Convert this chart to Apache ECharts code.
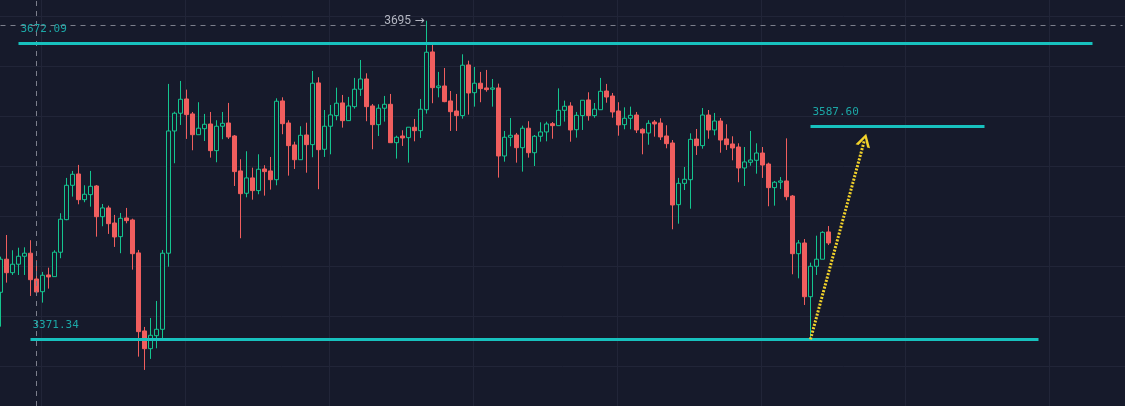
<!DOCTYPE html>
<html>
<head>
<meta charset="utf-8">
<style>
  html, body { margin: 0; padding: 0; background: #161a2b; }
  #chart { width: 1125px; height: 406px; }
</style>
<script src="https://cdn.jsdelivr.net/npm/echarts@6/dist/echarts.min.js"></script>
</head>
<body>
<div id="chart"></div>
<script>
// OHLC per bar
const opens = [
  3419.1, 3452.7, 3439.0, 3447.6, 3455.7, 3458.8, 3432.6, 3419.7, 3436.7, 3435.0,
  3459.8, 3492.9, 3527.8, 3539.3, 3513.2, 3518.3, 3527.1, 3495.9, 3504.8, 3489.5,
  3475.6, 3494.6, 3492.6, 3459.1, 3379.8, 3361.8, 3375.0, 3381.5, 3458.8, 3583.0,
  3601.0, 3615.5, 3600.3, 3579.2, 3585.3, 3590.1, 3563.0, 3587.8, 3591.1, 3577.9,
  3542.4, 3519.7, 3535.3, 3522.4, 3544.4, 3542.4, 3533.5, 3613.5, 3591.1, 3568.8,
  3553.8, 3578.9, 3569.1, 3631.8, 3564.4, 3587.8, 3598.6, 3611.5, 3593.5, 3607.7,
  3625.4, 3635.8, 3608.4, 3589.4, 3606.1, 3610.1, 3571.1, 3577.9, 3576.2, 3586.8,
  3583.3, 3604.6, 3663.3, 3627.0, 3628.7, 3613.5, 3603.3, 3598.6, 3650.1, 3621.9,
  3631.5, 3626.7, 3625.4, 3626.7, 3557.6, 3576.6, 3578.9, 3566.0, 3585.8, 3560.9,
  3577.6, 3582.0, 3590.4, 3588.4, 3604.0, 3608.4, 3584.3, 3598.6, 3614.5, 3598.6,
  3604.6, 3623.6, 3618.5, 3603.3, 3589.4, 3595.9, 3599.2, 3584.7, 3580.9, 3592.1,
  3591.1, 3577.9, 3570.8, 3508.1, 3529.8, 3533.5, 3574.8, 3568.1, 3599.2, 3584.0,
  3593.1, 3574.9, 3569.8, 3566.7, 3545.4, 3551.2, 3553.2, 3560.6, 3549.4, 3525.4,
  3530.9, 3532.2, 3516.9, 3458.3, 3469.2, 3414.6, 3445.5, 3452.7, 3480.4
];
const closes = [
  3452.7, 3439.0, 3447.6, 3455.7, 3458.8, 3431.9, 3419.4, 3436.4, 3434.7, 3459.8,
  3493.3, 3527.8, 3539.0, 3513.2, 3518.7, 3526.8, 3495.9, 3504.8, 3488.8, 3475.3,
  3494.3, 3491.9, 3458.3, 3379.1, 3361.8, 3375.4, 3381.5, 3458.8, 3583.0, 3601.0,
  3615.2, 3599.6, 3579.2, 3585.8, 3589.8, 3563.0, 3587.8, 3590.8, 3576.9, 3541.7,
  3519.3, 3535.3, 3522.4, 3544.1, 3541.7, 3533.5, 3613.2, 3590.4, 3568.1, 3553.8,
  3578.6, 3569.1, 3631.5, 3564.0, 3587.8, 3599.3, 3611.2, 3593.5, 3608.4, 3625.4,
  3635.8, 3607.7, 3589.4, 3606.1, 3610.1, 3571.1, 3576.6, 3575.9, 3586.8, 3583.3,
  3605.1, 3663.0, 3627.0, 3628.7, 3612.8, 3602.6, 3598.6, 3649.8, 3621.6, 3631.5,
  3626.0, 3625.0, 3626.7, 3557.6, 3576.6, 3578.6, 3566.0, 3585.8, 3560.9, 3577.6,
  3582.0, 3590.1, 3588.4, 3604.0, 3608.1, 3584.0, 3598.9, 3614.2, 3598.6, 3605.1,
  3623.3, 3617.5, 3602.3, 3589.1, 3595.9, 3598.9, 3584.0, 3580.9, 3590.8, 3590.1,
  3576.9, 3570.1, 3507.8, 3529.8, 3533.9, 3574.5, 3568.1, 3599.2, 3584.0, 3593.1,
  3573.8, 3569.1, 3565.7, 3545.4, 3551.5, 3553.5, 3560.6, 3548.4, 3525.4, 3530.9,
  3532.2, 3516.2, 3458.3, 3469.2, 3414.6, 3445.5, 3452.7, 3480.0, 3469.2
];
const lows = [
  3384.2, 3428.9, 3436.7, 3436.7, 3436.7, 3415.4, 3418.1, 3408.6, 3422.8, 3435.0,
  3453.7, 3492.3, 3516.3, 3508.5, 3510.6, 3506.1, 3475.6, 3486.2, 3478.4, 3465.2,
  3458.8, 3489.2, 3442.1, 3353.7, 3340.2, 3351.4, 3362.2, 3372.0, 3445.1, 3550.2,
  3589.1, 3574.9, 3563.4, 3579.2, 3572.8, 3555.9, 3551.2, 3574.6, 3574.9, 3527.1,
  3474.0, 3515.6, 3513.2, 3518.7, 3517.3, 3523.4, 3527.8, 3579.7, 3537.6, 3544.4,
  3553.8, 3540.6, 3556.3, 3523.8, 3556.6, 3559.3, 3593.9, 3586.4, 3593.5, 3605.7,
  3618.6, 3592.9, 3564.4, 3577.9, 3592.5, 3571.1, 3554.9, 3567.8, 3550.8, 3572.5,
  3575.9, 3600.6, 3611.2, 3617.2, 3612.2, 3583.0, 3583.0, 3595.5, 3599.6, 3607.7,
  3612.2, 3622.9, 3607.7, 3535.6, 3551.8, 3567.4, 3550.8, 3541.7, 3555.9, 3547.4,
  3572.1, 3572.5, 3575.1, 3588.4, 3592.5, 3572.1, 3576.2, 3584.0, 3593.5, 3596.5,
  3604.6, 3611.7, 3596.5, 3578.2, 3584.7, 3584.7, 3580.9, 3559.3, 3569.0, 3577.2,
  3573.8, 3565.4, 3483.1, 3488.8, 3523.0, 3504.0, 3558.6, 3565.0, 3575.1, 3578.6,
  3560.9, 3563.7, 3553.2, 3530.9, 3527.1, 3547.7, 3539.6, 3535.3, 3506.5, 3507.1,
  3524.0, 3512.6, 3437.4, 3433.3, 3406.2, 3371.3, 3436.7, 3452.7, 3467.1
];
const highs = [
  3455.3, 3477.3, 3461.8, 3464.4, 3464.8, 3472.0, 3451.6, 3439.8, 3444.1, 3461.8,
  3499.4, 3535.3, 3542.4, 3548.5, 3527.8, 3542.4, 3528.1, 3508.8, 3507.1, 3497.7,
  3499.7, 3504.8, 3493.9, 3462.1, 3383.9, 3393.0, 3410.3, 3462.1, 3630.8, 3602.6,
  3633.8, 3625.0, 3602.3, 3612.2, 3600.3, 3602.3, 3593.9, 3602.3, 3611.5, 3578.9,
  3554.3, 3562.4, 3545.7, 3559.3, 3548.2, 3556.6, 3616.2, 3617.2, 3593.9, 3572.1,
  3587.8, 3591.4, 3644.0, 3637.6, 3604.3, 3609.4, 3627.0, 3619.6, 3617.6, 3636.9,
  3655.1, 3641.6, 3610.4, 3610.1, 3618.6, 3620.6, 3578.2, 3583.7, 3586.8, 3595.2,
  3615.5, 3695.0, 3670.4, 3643.0, 3647.0, 3623.6, 3620.6, 3660.9, 3654.4, 3648.0,
  3643.0, 3645.0, 3635.8, 3631.1, 3583.0, 3596.2, 3581.0, 3588.4, 3592.9, 3578.9,
  3591.8, 3592.4, 3592.1, 3626.3, 3613.8, 3612.2, 3602.3, 3614.2, 3622.3, 3611.4,
  3636.9, 3630.8, 3621.6, 3612.2, 3607.0, 3607.7, 3602.3, 3585.7, 3593.9, 3594.1,
  3595.9, 3588.8, 3573.8, 3535.3, 3546.4, 3580.6, 3585.0, 3606.3, 3604.3, 3601.3,
  3596.2, 3589.8, 3577.6, 3570.5, 3566.7, 3583.0, 3570.5, 3566.7, 3550.8, 3532.2,
  3536.2, 3575.5, 3517.9, 3472.2, 3473.2, 3449.2, 3476.6, 3481.1, 3486.4
];

// bar slots, the chart leaves empty room on the right for the drawings
const slotCount = 188;

// horizontal levels: start bar, end bar, price
const levelStarts = [3, 135, 5];
const levelEnds = [182, 164, 173];
const levelPrices = [3672.09, 3587.60, 3371.34];

// projected move (dotted arrow): [bar, price]
const arrowFrom = [135, 3371.3];
const arrowTo = [144, 3573.8];

// crosshair position
const crosshairBar = 6;
const crosshairPrice = 3690.7;

const BG = '#161a2b';
const UP = '#14c48f';
const DOWN = '#f05e5e';
const LEVEL = '#17c1be';
const LEVEL_TEXT = '#1ca7a6';
const GRID_LINE = '#212538';
const CROSS = '#7c7f8c';
const ARROW = '#f2d22b';

// open chevron used as the arrow head
const chevron = 'path://M0,10 L5,0 L10,10 L8,10 L5,3.6 L2,10 Z';

const hiddenAxis = {
  axisLine: { show: false },
  axisTick: { show: false },
  axisLabel: { show: false }
};

function makeSlots() {
  const slots = [];
  for (let i = 0; i < slotCount; i++) {
    slots.push(String(i));
  }
  return slots;
}

function makeCandles() {
  return opens.map((open, i) => [open, closes[i], lows[i], highs[i]]);
}

function makeLevelLines() {
  return levelPrices.map((price, i) => [
    {
      coord: [levelStarts[i], price],
      label: {
        show: true,
        position: 'insideStartTop',
        formatter: price.toFixed(2),
        color: LEVEL_TEXT,
        fontFamily: 'DejaVu Sans Mono',
        fontSize: 11,
        distance: [2, 9]
      },
      lineStyle: { color: LEVEL, width: 3, type: 'solid' }
    },
    { coord: [levelEnds[i], price] }
  ]);
}

function makeArrowLine() {
  return [
    {
      coord: arrowFrom,
      symbol: 'none',
      label: { show: false },
      lineStyle: { color: ARROW, width: 3, type: [2, 1.5] }
    },
    { coord: arrowTo, symbol: chevron, symbolSize: [15, 13] }
  ];
}

function makeCrosshair() {
  const style = { color: CROSS, width: 1, type: [5, 5] };
  return [
    { yAxis: crosshairPrice, label: { show: false }, lineStyle: style },
    { xAxis: crosshairBar, label: { show: false }, lineStyle: style }
  ];
}

const chart = echarts.init(document.getElementById('chart'), null, { renderer: 'canvas' });

const option = {
  backgroundColor: BG,
  animation: false,
  grid: [
    // price grid, whole canvas
    { left: 0.5, right: 2.5, top: 0, bottom: 0 },
    // horizontal gridlines, one every 50 px
    { left: 0, right: 0, top: 16, bottom: 40 },
    // vertical gridlines, one every 144 px
    { left: 41, right: 76, top: 0, bottom: 0 }
  ],
  xAxis: [
    { type: 'category', gridIndex: 0, data: makeSlots(), boundaryGap: false, show: false },
    { type: 'value', gridIndex: 1, min: 0, max: 1, ...hiddenAxis, splitLine: { show: false } },
    {
      type: 'value', gridIndex: 2, min: 0, max: 1008, interval: 144, ...hiddenAxis,
      splitLine: { show: true, lineStyle: { color: GRID_LINE, width: 1 } }
    }
  ],
  yAxis: [
    { type: 'value', gridIndex: 0, min: 3303.56, max: 3716.06, show: false, splitLine: { show: false } },
    {
      type: 'value', gridIndex: 1, min: 0, max: 350, interval: 50, ...hiddenAxis,
      splitLine: { show: true, lineStyle: { color: GRID_LINE, width: 1 } }
    },
    { type: 'value', gridIndex: 2, min: 0, max: 1, ...hiddenAxis, splitLine: { show: false } }
  ],
  series: [
    {
      type: 'candlestick',
      xAxisIndex: 0,
      yAxisIndex: 0,
      data: makeCandles(),
      barWidth: 4,
      clip: false,
      silent: true,
      itemStyle: {
        color: BG,
        color0: DOWN,
        borderColor: UP,
        borderColor0: DOWN,
        borderWidth: 1
      },
      markPoint: {
        silent: true,
        symbol: 'circle',
        symbolSize: 0,
        data: [{ type: 'max', valueDim: 'highest' }],
        label: {
          show: true,
          position: 'left',
          distance: 2,
          formatter: (p) => `{n|${Math.round(p.value)}} {a|→}`,
          rich: {
            n: { color: '#b4b7c2', fontFamily: 'Roboto', fontSize: 12 },
            a: { color: '#b4b7c2', fontFamily: 'DejaVu Sans', fontSize: 12 }
          }
        }
      },
      markLine: {
        silent: true,
        symbol: 'none',
        animation: false,
        data: makeCrosshair().concat(makeLevelLines(), [makeArrowLine()])
      }
    }
  ]
};

chart.setOption(option);
</script>
</body>
</html>
